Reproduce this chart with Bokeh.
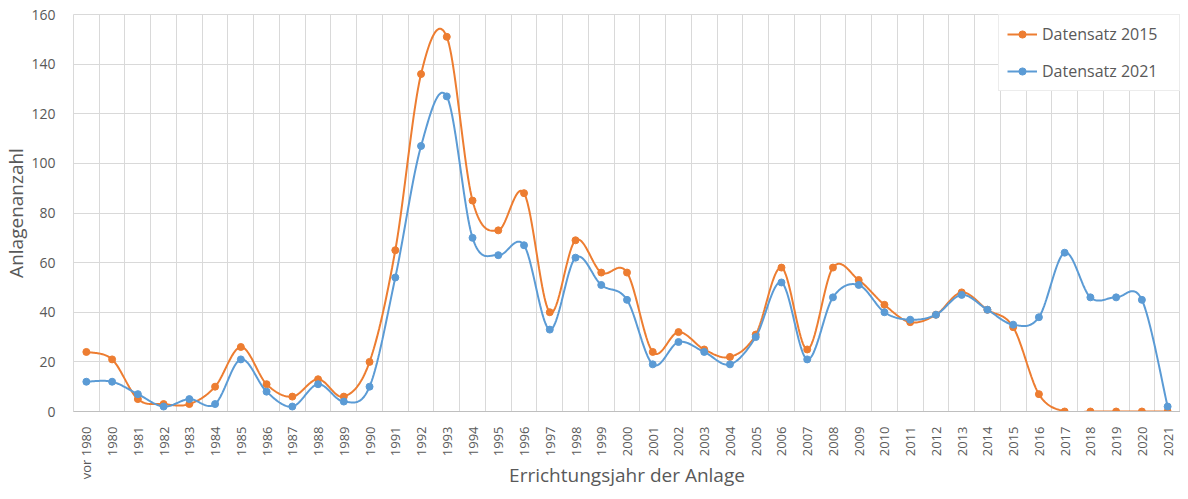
import math
from bokeh.plotting import figure
from bokeh.models import FixedTicker, Legend, LegendItem, Range1d
from bokeh.embed import file_html
from bokeh.resources import INLINE

categories = ["vor 1980", "1980", "1981", "1982", "1983", "1984", "1985", "1986", "1987", "1988",
              "1989", "1990", "1991", "1992", "1993", "1994", "1995", "1996", "1997", "1998",
              "1999", "2000", "2001", "2002", "2003", "2004", "2005", "2006", "2007", "2008",
              "2009", "2010", "2011", "2012", "2013", "2014", "2015", "2016", "2017", "2018",
              "2019", "2020", "2021"]

datensatz_2015 = [24, 21, 5, 3, 3, 10, 26, 11, 6, 13,
                  6, 20, 65, 136, 151, 85, 73, 88, 40, 69,
                  56, 56, 24, 32, 25, 22, 31, 58, 25, 58,
                  53, 43, 36, 39, 48, 41, 34, 7, 0, 0,
                  0, 0, 0]

datensatz_2021 = [12, 12, 7, 2, 5, 3, 21, 8, 2, 11,
                  4, 10, 54, 107, 127, 70, 63, 67, 33, 62,
                  51, 45, 19, 28, 24, 19, 30, 52, 21, 46,
                  51, 40, 37, 39, 47, 41, 35, 38, 64, 46,
                  46, 45, 2]

y_ticks = [0, 20, 40, 60, 80, 100, 120, 140, 160]

ORANGE = "#ED7D31"
BLUE = "#5B9BD5"
GRID = "#d9d9d9"
TXT = "#595959"
FONT = "Open Sans"


def smooth(ys, n=24):
    xs = list(range(len(ys)))
    ox, oy = [], []
    m = len(ys)
    for i in range(m - 1):
        i0 = i - 1 if i > 0 else i
        i3 = i + 2 if i + 2 < m else i + 1
        p0x, p0y = xs[i0], ys[i0]
        p1x, p1y = xs[i], ys[i]
        p2x, p2y = xs[i + 1], ys[i + 1]
        p3x, p3y = xs[i3], ys[i3]
        c1x, c1y = p1x + (p2x - p0x) / 6, p1y + (p2y - p0y) / 6
        c2x, c2y = p2x - (p3x - p1x) / 6, p2y - (p3y - p1y) / 6
        for k in range(n + (1 if i == m - 2 else 0)):
            t = k / n
            a = (1 - t) ** 3
            b = 3 * (1 - t) ** 2 * t
            c = 3 * (1 - t) * t ** 2
            d = t ** 3
            ox.append(a * p1x + b * c1x + c * c2x + d * p2x)
            oy.append(a * p1y + b * c1y + c * c2y + d * p2y)
    return ox, oy


p = figure(width=1180, height=491, output_backend="svg", toolbar_location=None,
           x_range=Range1d(-0.5, len(categories) - 0.5), y_range=Range1d(0, 160),
           min_border_left=10, min_border_right=0, min_border_top=14, min_border_bottom=0)

p.outline_line_color = GRID
p.background_fill_color = "white"
p.border_fill_color = "white"

# axes
p.xaxis.ticker = FixedTicker(ticks=list(range(len(categories))))
p.xaxis.major_label_overrides = {i: c for i, c in enumerate(categories)}
p.xaxis.major_label_orientation = math.pi / 2
p.xaxis.major_tick_line_color = None
p.xaxis.minor_tick_line_color = None
p.xaxis.axis_line_color = "#bfbfbf"
p.xaxis.major_label_text_font = FONT
p.xaxis.major_label_text_font_size = "13px"
p.xaxis.major_label_text_color = TXT
p.xaxis.major_label_standoff = 9
p.xaxis.axis_label = "Errichtungsjahr der Anlage"
p.xaxis.axis_label_text_font = FONT
p.xaxis.axis_label_text_font_size = "19px"
p.xaxis.axis_label_text_font_style = "normal"
p.xaxis.axis_label_text_color = TXT
p.xaxis.axis_label_standoff = -20

p.yaxis.ticker = FixedTicker(ticks=y_ticks)
p.yaxis.major_tick_line_color = None
p.yaxis.minor_tick_line_color = None
p.yaxis.axis_line_color = None
p.yaxis.major_label_text_font = FONT
p.yaxis.major_label_text_font_size = "14px"
p.yaxis.major_label_text_color = TXT
p.yaxis.major_label_standoff = 12
p.yaxis.axis_label = "Anlagenanzahl"
p.yaxis.axis_label_text_font = FONT
p.yaxis.axis_label_text_font_size = "19px"
p.yaxis.axis_label_text_font_style = "normal"
p.yaxis.axis_label_text_color = TXT
p.yaxis.axis_label_standoff = -1

# grids
p.xgrid.ticker = FixedTicker(ticks=[i + 0.5 for i in range(-1, len(categories))])
p.xgrid.grid_line_color = GRID
p.ygrid.ticker = FixedTicker(ticks=y_ticks)
p.ygrid.grid_line_color = GRID

xs = list(range(len(categories)))

sx, sy = smooth(datensatz_2015)
l15 = p.line(sx, sy, line_color=ORANGE, line_width=2)
m15 = p.scatter(xs, datensatz_2015, size=7, fill_color=ORANGE, line_color=ORANGE)

sx, sy = smooth(datensatz_2021)
l21 = p.line(sx, sy, line_color=BLUE, line_width=2)
m21 = p.scatter(xs, datensatz_2021, size=7, fill_color=BLUE, line_color=BLUE)

legend = Legend(items=[LegendItem(label="Datensatz 2015", renderers=[l15, m15]),
                       LegendItem(label="Datensatz 2021", renderers=[l21, m21])],
                location="top_right")
legend.margin = 0
legend.padding = 8
legend.spacing = 15
legend.glyph_width = 30
legend.glyph_height = 18
legend.label_height = 18
legend.label_width = 129
legend.label_standoff = 5
legend.label_text_font = FONT
legend.label_text_font_size = "16px"
legend.label_text_color = TXT
legend.border_line_color = GRID
legend.background_fill_color = "white"
legend.background_fill_alpha = 1.0
p.add_layout(legend, "center")

open("out.html", "w").write(file_html(p, INLINE))
